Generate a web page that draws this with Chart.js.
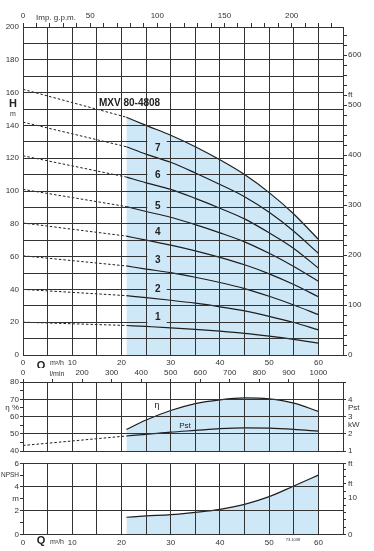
<!DOCTYPE html>
<html>
<head>
<meta charset="utf-8">
<script src="https://cdn.jsdelivr.net/npm/chart.js@4.4.0/dist/chart.umd.min.js"></script>
<style>
  html, body { margin: 0; padding: 0; background: #fff; }
  #wrap { position: relative; width: 374px; height: 551px; }
  canvas { position: absolute; left: 0; }
</style>
</head>
<body>
<div id="wrap">
  <canvas id="headChart" width="374" height="368" style="top:0"></canvas>
  <canvas id="effChart" width="374" height="90" style="top:368px"></canvas>
  <canvas id="npshChart" width="374" height="95" style="top:456px"></canvas>
</div>
<script>
// flow points, m3/h
const qShutoff = [0, 21];
const qCurve = [21, 25, 30, 35, 40, 45, 50, 55, 60];

// head (m) at Q = 0, 8 stages down to 1 stage
const headShutoff = [162, 142, 121.5, 101, 80.5, 60.5, 40, 20];
const head8 = [145, 140, 134, 127, 119, 110, 99, 86, 70.5];
const head7 = [127, 122.5, 117.5, 111, 104, 96.5, 87, 75.5, 62];
const head6 = [108.5, 105, 101, 95.5, 89.5, 83, 74.5, 65, 53];
const head5 = [90.5, 87.5, 84, 79.5, 74.5, 69, 62, 54, 45];
const head4 = [72.5, 70, 67, 63.5, 59.5, 55, 49.5, 43, 35.5];
const head3 = [54.3, 52.4, 50.2, 47.4, 44.2, 40.5, 35.8, 30.5, 24.6];
const head2 = [36.2, 35, 33.4, 31.6, 29.4, 26.9, 23.6, 19.8, 15.3];
const head1 = [18, 17.4, 16.6, 15.6, 14.5, 13.2, 11.5, 9.5, 7.2];
const stageNames = ['7', '6', '5', '4', '3', '2', '1'];
const modelName = 'MXV 80-4808';

// efficiency %, shaft power kW, NPSH m
const eta = [52.5, 58, 63.5, 67.5, 69.7, 70.8, 70.2, 67.8, 63];
const pstShutoff = [1.33, 1.88];
const pst = [1.88, 1.97, 2.1, 2.2, 2.3, 2.35, 2.33, 2.26, 2.16];
const npsh = [1.44, 1.55, 1.66, 1.86, 2.11, 2.53, 3.18, 4.08, 5.0];

// ticks
const range = (a, b, s) => { const r = []; for (let v = a; v <= b + 1e-9; v += s) r.push(v); return r; };
const qTicks = range(0, 65, 5);
const qLabels = ['0', '', '10', '', '20', '', '30', '', '40', '', '50', '', '60', ''];
const headTicks = range(0, 200, 10);
const ftTicks = range(0, 640, 20);
const gpmTicks = range(0, 230, 10);
const gpmLabels = ['0', '', '', '', '', '50', '', '', '', '', '100', '', '', '', '', '150', '', '', '', '', '200', '', '', ''];
const lminTicks = range(0, 1000, 100);
const lminLabels = ['0', '', '200', '300', '400', '500', '600', '700', '800', '900', '1000'];
const effTicks = range(40, 80, 5);
const effLabels = ['40', '', '50', '', '60', 'η %', '70', '', '80'];
const kwTicks = range(1, 5, 0.5);
const kwLabels = ['1', '', '2', 'kW', '3', 'Pst', '4', '', ''];
const npshTicks = range(0, 6, 1);
const npshLabels = ['0', '', '2', 'm', '4', 'NPSH', '6'];
const npshFtTicks = [0, 2, 4, 6, 8, 10, 12, 14, 16, 18, 6 / 0.3048];
const npshFtLabels = ['0', '', '', '', '', '10', '', 'ft', '', '', 'ft'];

const lineColor = '#1e1e1e';
const gridColor = '#333';
const shade = '#cfe8f8';
const textColor = '#333';

Chart.defaults.font.family = "'Liberation Sans', Arial, Helvetica, sans-serif";
Chart.defaults.font.size = 8;
Chart.defaults.color = textColor;

const setTicks = (list) => (scale) => { scale.ticks = list.map(v => ({ value: v })); };
const pts = (xs, ys) => xs.map((x, i) => ({ x: x, y: ys[i] }));

const baseOptions = {
    responsive: false,
    animation: false,
    events: [],
    layout: { padding: 0 },
    plugins: {
        legend: { display: false },
        tooltip: { enabled: false },
        filler: { drawTime: 'beforeDatasetsDraw' }   // fills go under every curve
    }
};

function qAxis(height, showLabels, pad) {
    return {
        type: 'linear', position: 'bottom', min: 0, max: 65,
        afterBuildTicks: setTicks(qTicks),
        afterFit: (s) => { s.height = height; },
        grid: { color: gridColor, lineWidth: 1, drawTicks: false, z: 1 },
        border: { color: gridColor, width: 1, z: 1 },
        ticks: {
            display: showLabels, padding: pad, maxRotation: 0, autoSkip: false,
            callback: (v, i) => qLabels[i]
        }
    };
}

// ---------- head chart ----------
const headCurves = [head8, head7, head6, head5, head4, head3, head2, head1];
const headSets = [];
headCurves.forEach((h, i) => {
    headSets.push({
        data: pts(qCurve, h),
        borderColor: lineColor, borderWidth: 1.2, pointRadius: 0,
        cubicInterpolationMode: 'monotone',
        fill: i === 0 ? 'origin' : false,
        backgroundColor: shade
    });
    headSets.push({
        data: pts(qShutoff, [headShutoff[i], h[0]]),
        borderColor: lineColor, borderWidth: 1, borderDash: [2.5, 2], pointRadius: 0, fill: false
    });
});

// where the stage numbers sit (m) and which gridline they cut
const stageTextH = [126, 109.6, 90.8, 75, 57.5, 40, 22.8];
const stageGapH = [130, 110, 90, null, 60, 40, 20];

const headNotes = {
    id: 'headNotes',
    afterDraw(chart) {
        const { ctx, scales: { x, y } } = chart;
        ctx.save();
        const gx0 = x.getPixelForValue(25.25), gx1 = x.getPixelForValue(29.2);
        const tx = x.getPixelForValue(27.4);
        stageNames.forEach((name, i) => {
            if (stageGapH[i] !== null) {
                const gy = y.getPixelForValue(stageGapH[i]);
                ctx.fillStyle = shade;
                ctx.fillRect(gx0, gy - 2, gx1 - gx0, 4);
            }
            ctx.fillStyle = '#222';
            ctx.font = "bold 10px 'Liberation Sans', Arial, sans-serif";
            ctx.textAlign = 'center';
            ctx.textBaseline = 'middle';
            ctx.fillText(name, tx, y.getPixelForValue(stageTextH[i]));
        });
        ctx.textAlign = 'left';
        ctx.fillText(modelName, 99, 103);
        ctx.font = "bold 11px 'Liberation Sans', Arial, sans-serif";
        ctx.textAlign = 'center';
        ctx.fillText('H', 13, 104);
        ctx.fillText('Q', 41, 366);
        ctx.fillStyle = textColor;
        ctx.font = "7px 'Liberation Sans', Arial, sans-serif";
        ctx.fillText('m', 13, 114);
        ctx.fillText('m³/h', 57, 363);
        ctx.font = "8px 'Liberation Sans', Arial, sans-serif";
        ctx.fillText('Imp. g.p.m.', 56, 18);
        ctx.restore();
    }
};

new Chart(document.getElementById('headChart'), {
    type: 'line',
    data: { datasets: headSets },
    options: Object.assign({}, baseOptions, {
        scales: {
            x: qAxis(13, true, 3),
            y: {
                type: 'linear', position: 'left', min: 0, max: 200,
                afterBuildTicks: setTicks(headTicks),
                afterFit: (s) => { s.width = 23; },
                grid: { color: gridColor, lineWidth: 1, drawTicks: false, z: 1 },
                border: { color: gridColor, width: 1, z: 1 },
                ticks: { padding: 4, autoSkip: false, callback: (v) => (v % 20 === 0 ? String(v) : '') }
            },
            yFt: {
                type: 'linear', position: 'right', min: 0, max: 200 / 0.3048,
                afterBuildTicks: setTicks(ftTicks),
                afterFit: (s) => { s.width = 31; },
                grid: { drawOnChartArea: false, drawTicks: true, tickLength: 4, tickColor: gridColor },
                border: { color: gridColor, width: 1, z: 1 },
                ticks: { padding: 1, autoSkip: false, callback: (v) => (v % 100 === 0 ? String(v) : v === 520 ? 'ft' : '') }
            },
            xGpm: {
                type: 'linear', position: 'top', min: 0, max: 65 / 0.2728,
                afterBuildTicks: setTicks(gpmTicks),
                afterFit: (s) => { s.height = 27; },
                grid: { drawOnChartArea: false, drawTicks: true, tickLength: 4, tickColor: gridColor },
                border: { color: gridColor, width: 1, z: 1 },
                ticks: { padding: 2, maxRotation: 0, autoSkip: false, callback: (v, i) => gpmLabels[i] }
            }
        }
    }),
    plugins: [headNotes]
});

// ---------- efficiency / power chart ----------
const effNotes = {
    id: 'effNotes',
    afterDraw(chart) {
        const { ctx } = chart;
        ctx.save();
        ctx.fillStyle = textColor;
        ctx.textAlign = 'center';
        ctx.textBaseline = 'middle';
        ctx.font = "7px 'Liberation Sans', Arial, sans-serif";
        ctx.fillText('l/min', 57, 6);
        ctx.fillStyle = '#222';
        ctx.font = "9px 'Liberation Sans', Arial, sans-serif";
        ctx.fillText('η', 157, 38);
        ctx.font = "8px 'Liberation Sans', Arial, sans-serif";
        ctx.fillText('Pst', 185, 58);
        ctx.restore();
    }
};

new Chart(document.getElementById('effChart'), {
    type: 'line',
    data: {
        datasets: [
            { data: pts(qCurve, eta), yAxisID: 'yEff', borderColor: lineColor, borderWidth: 1.2, pointRadius: 0,
              cubicInterpolationMode: 'monotone', fill: 'start', backgroundColor: shade },
            { data: pts(qCurve, pst), yAxisID: 'yKw', borderColor: lineColor, borderWidth: 1.2, pointRadius: 0,
              cubicInterpolationMode: 'monotone', fill: false },
            { data: pts(qShutoff, pstShutoff), yAxisID: 'yKw', borderColor: lineColor, borderWidth: 1,
              borderDash: [2.5, 2], pointRadius: 0, fill: false }
        ]
    },
    options: Object.assign({}, baseOptions, {
        scales: {
            x: qAxis(6, false, 0),
            yEff: {
                type: 'linear', position: 'left', min: 40, max: 80,
                afterBuildTicks: setTicks(effTicks),
                afterFit: (s) => { s.width = 23; },
                grid: { color: (c) => (c.tick && c.tick.value % 10 === 0 ? gridColor : 'rgba(0,0,0,0)'),
                        tickColor: gridColor, drawTicks: true, tickLength: 3, z: 1 },
                border: { color: gridColor, width: 1, z: 1 },
                ticks: { padding: 1, autoSkip: false, callback: (v, i) => effLabels[i] }
            },
            yKw: {
                type: 'linear', position: 'right', min: 1, max: 5,
                afterBuildTicks: setTicks(kwTicks),
                afterFit: (s) => { s.width = 31; },
                grid: { drawOnChartArea: false, drawTicks: true, tickLength: 3,
                        tickColor: (c) => (c.tick && c.tick.value % 1 === 0 ? gridColor : 'rgba(0,0,0,0)') },
                border: { color: gridColor, width: 1, z: 1 },
                ticks: { padding: 2, autoSkip: false, callback: (v, i) => kwLabels[i] }
            },
            xLmin: {
                type: 'linear', position: 'top', min: 0, max: 65 * 1000 / 60,
                afterBuildTicks: setTicks(lminTicks),
                afterFit: (s) => { s.height = 14; },
                grid: { drawOnChartArea: false, drawTicks: true, tickLength: 3, tickColor: gridColor },
                border: { color: gridColor, width: 1, z: 1 },
                ticks: { padding: 1, maxRotation: 0, autoSkip: false, callback: (v, i) => lminLabels[i] }
            }
        }
    }),
    plugins: [effNotes]
});

// ---------- NPSH chart ----------
const npshNotes = {
    id: 'npshNotes',
    afterDraw(chart) {
        const { ctx } = chart;
        ctx.save();
        ctx.textAlign = 'center';
        ctx.textBaseline = 'middle';
        ctx.fillStyle = '#222';
        ctx.font = "bold 11px 'Liberation Sans', Arial, sans-serif";
        ctx.fillText('Q', 41, 85);
        ctx.fillStyle = textColor;
        ctx.font = "7px 'Liberation Sans', Arial, sans-serif";
        ctx.fillText('m³/h', 57, 86);
        ctx.font = "4px 'Liberation Sans', Arial, sans-serif";
        ctx.fillText('73.1038', 293, 84);
        ctx.restore();
    }
};

new Chart(document.getElementById('npshChart'), {
    type: 'line',
    data: {
        datasets: [
            { data: pts(qCurve, npsh), borderColor: lineColor, borderWidth: 1.2, pointRadius: 0,
              cubicInterpolationMode: 'monotone', fill: 'origin', backgroundColor: shade }
        ]
    },
    options: Object.assign({}, baseOptions, {
        layout: { padding: { top: 7.3 } },
        scales: {
            x: qAxis(16.7, true, 4),
            y: {
                type: 'linear', position: 'left', min: 0, max: 6,
                afterBuildTicks: setTicks(npshTicks),
                afterFit: (s) => { s.width = 23; },
                grid: { color: (c) => (c.tick && c.tick.value % 2 === 0 ? gridColor : 'rgba(0,0,0,0)'),
                        tickColor: gridColor, drawTicks: true, tickLength: 3, z: 1 },
                border: { color: gridColor, width: 1, z: 1 },
                ticks: { padding: 1, autoSkip: false, callback: (v, i) => npshLabels[i],
                         font: (c) => ({ size: c.tick && c.tick.value === 5 ? 6.5 : 8 }) }
            },
            yFt: {
                type: 'linear', position: 'right', min: 0, max: 6 / 0.3048,
                afterBuildTicks: setTicks(npshFtTicks),
                afterFit: (s) => { s.width = 31; },
                grid: { drawOnChartArea: false, drawTicks: true, tickLength: 3, tickColor: gridColor },
                border: { color: gridColor, width: 1, z: 1 },
                ticks: { padding: 2, autoSkip: false, callback: (v, i) => npshFtLabels[i] }
            }
        }
    }),
    plugins: [npshNotes]
});
</script>
</body>
</html>
